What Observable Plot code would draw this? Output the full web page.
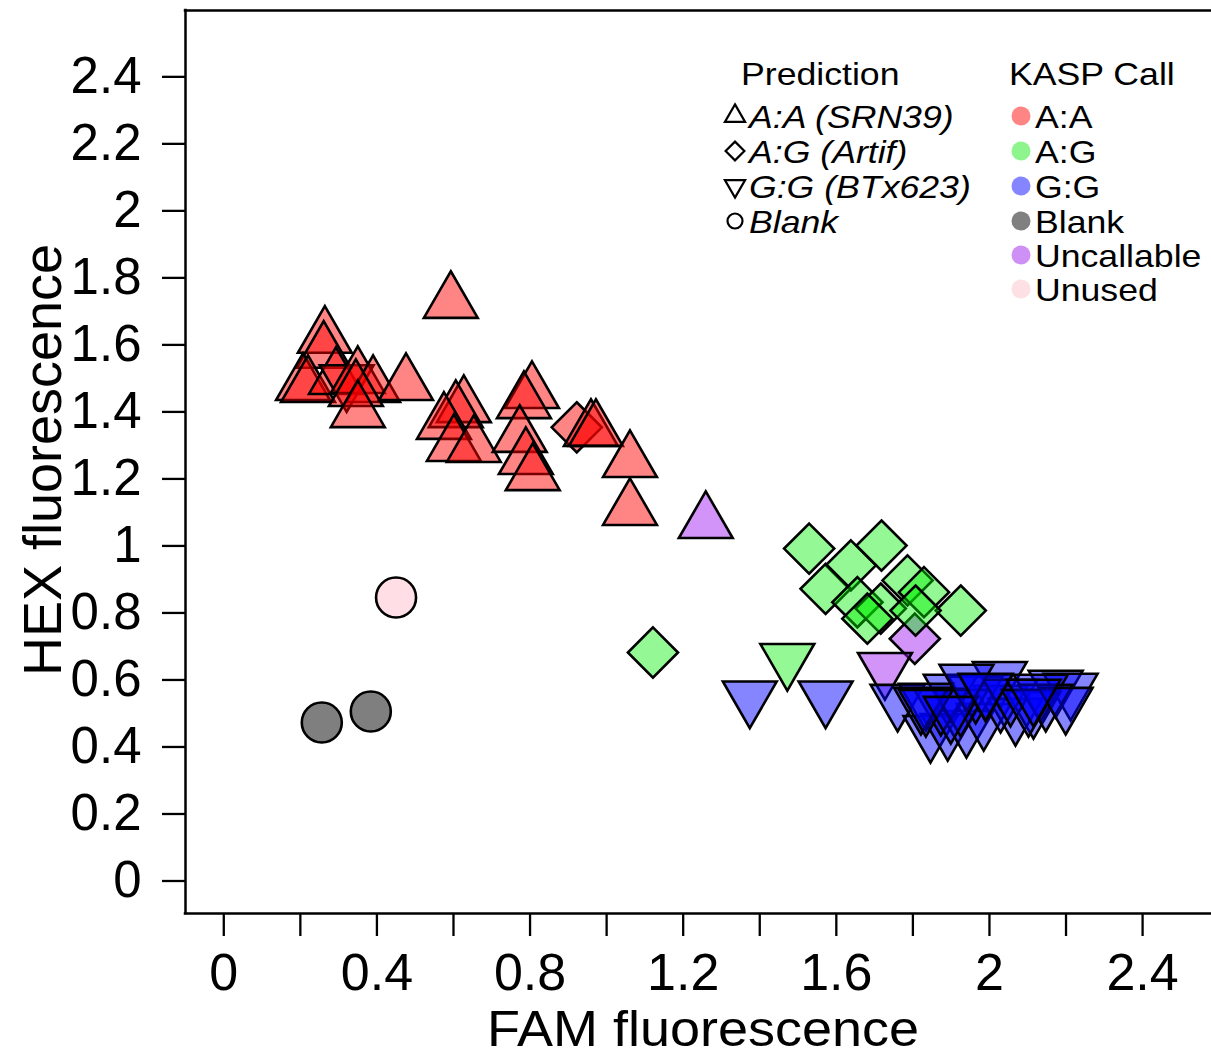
<!DOCTYPE html>
<html><head><meta charset="utf-8">
<script src="https://cdn.jsdelivr.net/npm/d3@7"></script>
<script src="https://cdn.jsdelivr.net/npm/@observablehq/plot@0.6"></script>
<style>
body{margin:0;background:#fff;}
#wrap{position:relative;width:1211px;height:1059px;overflow:hidden;}
#wrap svg{position:absolute;left:0;top:0;}
</style></head><body><div id="wrap"></div>
<script>
// ---------- data: [FAM, HEX, prediction] per KASP call ----------
const callAA = [
  [0.264,1.623,"A:A"],[0.261,1.578,"A:A"],[0.207,1.482,"A:A"],[0.220,1.476,"A:A"],
  [0.293,1.500,"A:A"],[0.321,1.493,"G:G"],[0.350,1.503,"A:A"],[0.390,1.476,"A:A"],
  [0.345,1.464,"A:A"],[0.350,1.401,"A:A"],[0.476,1.482,"A:A"],[0.593,1.727,"A:A"],
  [0.627,1.416,"A:A"],[0.606,1.401,"A:A"],[0.575,1.366,"A:A"],[0.601,1.300,"A:A"],
  [0.653,1.297,"A:A"],[0.805,1.458,"A:A"],[0.784,1.428,"A:A"],[0.773,1.327,"A:A"],
  [0.789,1.261,"A:A"],[0.807,1.213,"A:A"],[0.922,1.354,"A:G"],[0.959,1.345,"A:A"],
  [0.972,1.345,"A:A"],[1.061,1.252,"A:A"],[1.061,1.109,"A:A"]
];
const callUncallable = [
  [1.259,1.070,"A:A"],[1.805,0.723,"A:G"],[1.727,0.634,"G:G"]
];
const callAG = [
  [1.529,0.992,"A:G"],[1.718,1.001,"A:G"],[1.638,0.942,"A:G"],[1.572,0.872,"A:G"],
  [1.786,0.897,"A:G"],[1.829,0.862,"A:G"],[1.925,0.807,"A:G"],[1.655,0.832,"A:G"],
  [1.716,0.813,"A:G"],[1.807,0.807,"A:G"],[1.681,0.783,"A:G"],[1.121,0.682,"A:G"],
  [1.472,0.661,"G:G"]
];
const callGG = [
  [1.374,0.549,"G:G"],[1.572,0.549,"G:G"],[1.760,0.539,"G:G"],[1.846,0.446,"G:G"],
  [1.891,0.452,"G:G"],[1.940,0.461,"G:G"],[1.985,0.482,"G:G"],[2.027,0.607,"G:G"],
  [2.173,0.581,"G:G"],[2.212,0.572,"G:G"],[2.068,0.497,"G:G"],[2.115,0.518,"G:G"],
  [2.029,0.536,"G:G"],[1.964,0.563,"G:G"],[1.899,0.569,"G:G"],[1.834,0.542,"G:G"],
  [1.873,0.527,"G:G"],[1.925,0.524,"G:G"],[1.990,0.569,"G:G"],[2.055,0.554,"G:G"],
  [2.134,0.569,"G:G"],[2.147,0.539,"G:G"],[1.940,0.599,"G:G"],[1.821,0.530,"G:G"],
  [2.102,0.524,"G:G"],[2.199,0.530,"G:G"],[1.834,0.524,"G:G"],[1.899,0.503,"G:G"],
  [1.990,0.572,"G:G"],[2.115,0.554,"G:G"]
];
const callBlank = [[0.256,0.473,"Blank"],[0.384,0.506,"Blank"]];
const callUnused = [[0.450,0.846,"Blank"]];

const predictionKeys = ["A:A","A:G","G:G","Blank"];
const predictionLabels = ["A:A (SRN39)","A:G (Artif)","G:G (BTx623)","Blank"];
const callKeys = ["A:A","A:G","G:G","Blank","Uncallable","Unused"];
const callFills = ["rgba(255,0,0,0.48)","rgba(0,240,0,0.42)","rgba(0,0,255,0.48)","rgba(0,0,0,0.5)","rgba(160,32,240,0.48)","rgba(255,192,203,0.5)"];
const callLegendFills = ["#ff8585","#8ef58e","#8585ff","#808080","#cf90f5","#fde0e4"];

const xTicks = [0,0.2,0.4,0.6,0.8,1,1.2,1.4,1.6,1.8,2,2.2,2.4];
const xTickLabels = ["0","","0.4","","0.8","","1.2","","1.6","","2","","2.4"];
const yTicks = [0,0.2,0.4,0.6,0.8,1,1.2,1.4,1.6,1.8,2,2.2,2.4];
const yTickLabels = ["0","0.2","0.4","0.6","0.8","1","1.2","1.4","1.6","1.8","2","2.2","2.4"];
const xDomain = [-0.1, 2.58];
const yDomain = [-0.097, 2.598];

// ---------- R-style plotting symbols ----------
const TRC0 = Math.sqrt(4*Math.PI/(3*Math.sqrt(3)));
const TRC1 = TRC0*Math.sqrt(3)/2, TRC2 = TRC0/2, DMDC = 1.2533141373155;
const rad = s => Math.sqrt(s/Math.PI);
const triUp = {draw(c,s){const R=rad(s);c.moveTo(0,-TRC0*R);c.lineTo(TRC1*R,TRC2*R);c.lineTo(-TRC1*R,TRC2*R);c.closePath();}};
const triDown = {draw(c,s){const R=rad(s);c.moveTo(0,TRC0*R);c.lineTo(TRC1*R,-TRC2*R);c.lineTo(-TRC1*R,-TRC2*R);c.closePath();}};
const diamond = {draw(c,s){const d=DMDC*rad(s);c.moveTo(0,-d);c.lineTo(d,0);c.lineTo(0,d);c.lineTo(-d,0);c.closePath();}};
const circle = {draw(c,s){const R=rad(s);c.moveTo(R,0);c.arc(0,0,R,0,2*Math.PI);c.closePath();}};
const predSymbols = [triUp, diamond, triDown, circle];

const toRows = (arr, call) => arr.map(([fam,hex,pred]) => ({fam,hex,pred,call}));
const points = [
  ...toRows(callAA,"A:A"), ...toRows(callUncallable,"Uncallable"), ...toRows(callAG,"A:G"),
  ...toRows(callGG,"G:G"), ...toRows(callBlank,"Blank"), ...toRows(callUnused,"Unused")
];

const xLab = new Map(xTicks.map((t,i)=>[t,xTickLabels[i]]));
const yLab = new Map(yTicks.map((t,i)=>[t,yTickLabels[i]]));
const FONT = '"Liberation Sans", Arial, Helvetica, sans-serif';

const chart = Plot.plot({
  width: 1211, height: 1059,
  marginTop: 10, marginLeft: 185, marginRight: 0, marginBottom: 146,
  style: {fontFamily: FONT, background: "white", color: "black"},
  x: {domain: xDomain},
  y: {domain: yDomain},
  color: {domain: callKeys, range: callFills},
  symbol: {domain: predictionKeys, range: predSymbols},
  marks: [
    Plot.axisX({ticks: xTicks, tickFormat: d => xLab.get(d) ?? "", tickSize: 23, tickPadding: 17, fontSize: 52, strokeWidth: 2.3, label: null}),
    Plot.axisY({ticks: yTicks, tickFormat: d => yLab.get(d) ?? "", tickSize: 23, tickPadding: 21, fontSize: 51, strokeWidth: 2.3, label: null}),
    Plot.ruleX([xDomain[0]], {strokeWidth: 2.5, strokeLinecap: "square"}),
    Plot.ruleY(yDomain, {strokeWidth: 2.5, strokeLinecap: "square"}),
    Plot.dot(points, {x: "fam", y: "hex", symbol: "pred", fill: "call", stroke: "black", strokeWidth: 2.6, r: 20})
  ]
});
const wrap = document.getElementById("wrap");
wrap.appendChild(chart);

// ---------- overlay: axis titles and legend ----------
const ov = d3.select(wrap).append("svg").attr("width",1211).attr("height",1059)
  .style("font-family", FONT);
ov.append("text").attr("transform","translate(703,1046) scale(1.08,1)").attr("text-anchor","middle")
  .attr("font-size",50).text("FAM fluorescence");
ov.append("text").attr("transform","translate(61,460) rotate(-90)").attr("text-anchor","middle")
  .attr("font-size",54).text("HEX fluorescence");

const legFont = 31, legStretch = 1.15;
const legText = (x, y, s, italic) => ov.append("text")
  .attr("transform", `translate(${x},${y}) scale(${legStretch},1)`)
  .attr("font-size", legFont).attr("font-style", italic ? "italic" : "normal").text(s);
legText(741, 85, "Prediction", false);
legText(1009, 85, "KASP Call", false);
const predRowY = [116, 151, 186, 221];
predictionKeys.forEach((k,i) => {
  const p = d3.path(); predSymbols[i].draw(p, 7.5*7.5*Math.PI);
  ov.append("path").attr("d", p.toString()).attr("transform",`translate(735,${predRowY[i]})`)
    .attr("fill","none").attr("stroke","black").attr("stroke-width",2.2);
  legText(749, predRowY[i]+11.5, predictionLabels[i], true);
});
const callRowY = [116, 151, 186, 221, 255, 289];
callKeys.forEach((k,i) => {
  ov.append("circle").attr("cx",1021).attr("cy",callRowY[i]).attr("r",9.5).attr("fill",callLegendFills[i]);
  legText(1035, callRowY[i]+11.5, k, false);
});
</script></body></html>
